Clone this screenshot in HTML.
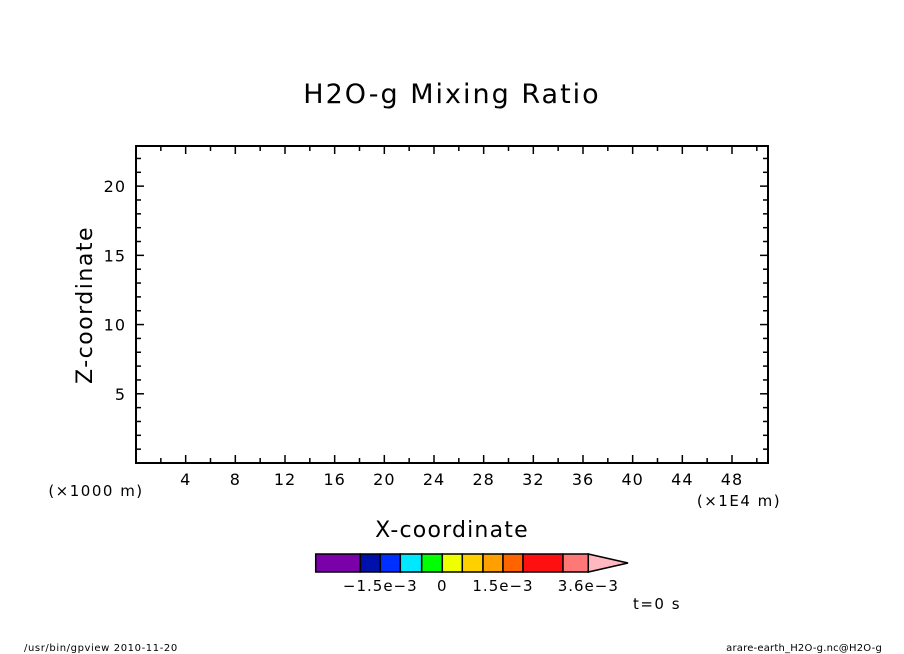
<!DOCTYPE html>
<html><head><meta charset="utf-8"><style>
html,body{margin:0;padding:0;background:#fff;}
svg{display:block;font-family:"DejaVu Sans","Liberation Sans",sans-serif;}
</style></head><body>
<svg id="chart" width="904" height="654" viewBox="0 0 904 654" xmlns="http://www.w3.org/2000/svg">
<text x="452" y="103" font-size="27" letter-spacing="2" text-anchor="middle">H2O-g Mixing Ratio</text>
<g id="axes"></g>
<rect x="136" y="146" width="632" height="317" fill="none" stroke="#000" stroke-width="2"/>
<text x="92" y="305" font-size="22" letter-spacing="1.5" text-anchor="middle" transform="rotate(-90 92 305)">Z-coordinate</text>
<text x="452" y="537" font-size="22" letter-spacing="1.2" text-anchor="middle">X-coordinate</text>
<text x="96" y="496" font-size="15" letter-spacing="1.5" text-anchor="middle">(×1000 m)</text>
<text x="739" y="506" font-size="15" letter-spacing="1.5" text-anchor="middle">(×1E4 m)</text>
<g id="cbar"></g>
<text x="657" y="609" font-size="15" letter-spacing="1.5" text-anchor="middle">t=0 s</text>
<text x="24" y="651" font-size="10" letter-spacing="0.6">/usr/bin/gpview  2010-11-20</text>
<text x="882" y="651" font-size="10" letter-spacing="0.2" text-anchor="end">arare-earth_H2O-g.nc@H2O-g</text>
</svg>
<script>
const xTicks=[4,8,12,16,20,24,28,32,36,40,44,48];
const yTicks=[5,10,15,20];
const xDomain=[0,50.9];
const yDomain=[0,22.9];
const cbColors=["#7a00aa","#0010aa","#0030ff","#00e8ff","#00ff00","#f0ff00","#ffd000","#ffa000","#ff6400","#ff1010","#ff7878"];
const cbBounds=[315.7,360.3,380.3,400.3,421.7,442.3,462.3,483,503,523,563,588.3];
const cbLabels=["-1.5e-3","0","1.5e-3","3.6e-3"];
const cbLabelIdx=[2,5,8,11];
const NS="http://www.w3.org/2000/svg";
const L=136,R=768,T=146,B=463;
const sx=v=>L+(v-xDomain[0])/(xDomain[1]-xDomain[0])*(R-L);
const sy=v=>B-(v-yDomain[0])/(yDomain[1]-yDomain[0])*(B-T);
function mk(tag,a,p){const e=document.createElementNS(NS,tag);for(const k in a)e.setAttribute(k,a[k]);p.appendChild(e);return e;}
const ax=document.getElementById('axes');
for(let v=2;v<xDomain[1];v+=2){const maj=v%4===0;const x=sx(v);const len=maj?8:5;
 let t=mk('line',{x1:x,x2:x,y1:B,y2:B-len,stroke:'#000','stroke-width':1.5},ax);
 
 
 t=mk('line',{x1:x,x2:x,y1:T,y2:T+len,stroke:'#000','stroke-width':1.5},ax);
 
 }
for(let v=1;v<yDomain[1];v+=1){const maj=v%5===0;const y=sy(v);const len=maj?8:5;
 let t=mk('line',{x1:L,x2:L+len,y1:y,y2:y,stroke:'#000','stroke-width':1.5},ax);
 
 
 t=mk('line',{x1:R,x2:R-len,y1:y,y2:y,stroke:'#000','stroke-width':1.5},ax);
 
 }
xTicks.forEach(v=>{const t=mk('text',{x:sx(v),y:485,'font-size':16,'letter-spacing':1,'text-anchor':'middle'},ax);t.textContent=v;
 
 });
yTicks.forEach(v=>{const t=mk('text',{x:126,y:sy(v)+6,'font-size':16,'letter-spacing':1,'text-anchor':'end'},ax);t.textContent=v;
 
 });
const cb=document.getElementById('cbar');
cbColors.forEach((c,i)=>{const r=mk('rect',{x:cbBounds[i],y:554,width:cbBounds[i+1]-cbBounds[i],height:18,fill:c,stroke:'#000','stroke-width':1.5},cb);
 
 });
const tri=mk('polygon',{points:`${cbBounds[11]},554 628,563 ${cbBounds[11]},572`,fill:'#ffb8c0',stroke:'#000','stroke-width':1.5},cb);


cbLabels.forEach((s,i)=>{const t=mk('text',{x:cbBounds[cbLabelIdx[i]],y:591,'font-size':15,'letter-spacing':1,'text-anchor':'middle'},cb);t.textContent=s.replace(/-/g,'−');
 
 });
</script>
</body></html>
